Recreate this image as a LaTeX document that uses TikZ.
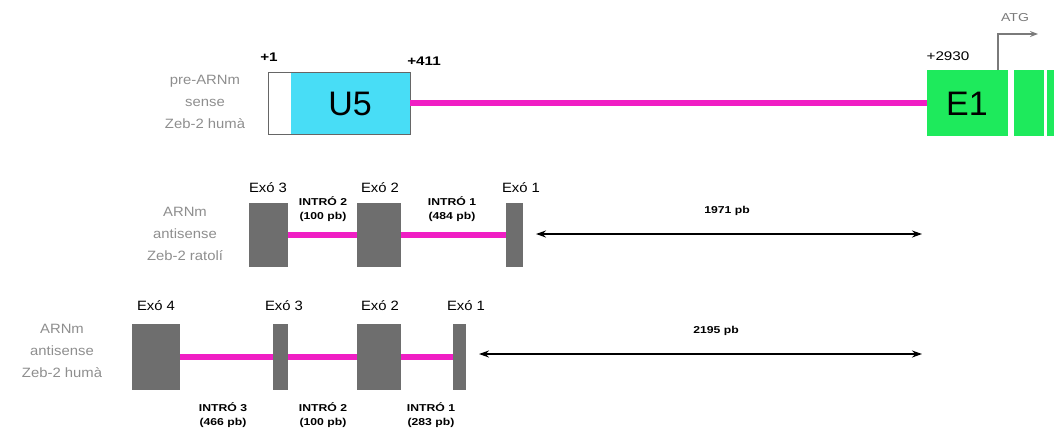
\documentclass[tikz,border=0pt]{standalone}
\usepackage{fontspec}
\setmainfont{Liberation Sans}
\newfontfamily\widesf[FakeStretch=1.22]{Liberation Sans}
\newfontfamily\midsf[FakeStretch=1.1]{Liberation Sans}
\usetikzlibrary{arrows.meta}
\definecolor{cyanbox}{HTML}{48DDF6}
\definecolor{magline}{HTML}{F01EC4}
\definecolor{greenbox}{HTML}{1EEA5C}
\definecolor{exgray}{HTML}{6E6E6E}
\definecolor{lblgray}{HTML}{8E8E8E}
\definecolor{atggray}{HTML}{7A7A7A}
\begin{document}
\begin{tikzpicture}[x=1pt,y=-1pt,
  box/.style={anchor=north west,inner sep=0pt,outer sep=0pt},
  exon/.style={box,fill=exgray},
  intron/.style={magline,line width=6pt},
  rowlbl/.style={text=lblgray,font=\midsf\fontsize{13.5}{22}\selectfont,align=center},
  exlbl/.style={font=\midsf\fontsize{13.5}{15}\selectfont},
  intlbl/.style={font=\widesf\bfseries\fontsize{10}{14}\selectfont,align=center},
  pblbl/.style={font=\widesf\bfseries\fontsize{10}{12}\selectfont},
  poslbl/.style={font=\widesf\bfseries\fontsize{12.5}{14}\selectfont},
  bigl/.style={font=\fontsize{34}{36}\selectfont},
  dim/.style={line width=1.8pt,{Stealth[length=10pt,width=7pt]}-{Stealth[length=10pt,width=7pt]}}
]
\useasboundingbox (0,0) rectangle (1054,431);

% ---- row 1: pre-ARNm sense
\node[rowlbl] (lbl1) at (205,102) {pre-ARNm\\sense\\Zeb-2 humà};
\node[box,fill=white,minimum width=142pt,minimum height=62pt] (u5box) at (268,72) {};
\node[box,fill=cyanbox,minimum width=119pt,minimum height=62pt] (u5) at (291,72) {};
\node[bigl] (u5t) at (350,104) {U5};
\draw[black!60,line width=0.7pt] (u5box.north west) rectangle (u5box.south east);
\node[box,fill=greenbox,minimum width=81pt,minimum height=66pt] (e1) at (927,70) {};
\node[bigl] (e1t) at (967,104) {E1};
\node[box,fill=greenbox,minimum width=30pt,minimum height=66pt] (e2) at (1014,70) {};
\node[box,fill=greenbox,minimum width=10pt,minimum height=66pt] (e3) at (1047,70) {};
\draw[intron] (u5box.east) -- (e1.west);
\node[poslbl] (p1) at (269,57) {+1};
\node[poslbl] (p411) at (424,61) {+411};
\node[font=\widesf\fontsize{12.5}{14}\selectfont] (p2930) at (948,56) {+2930};
\coordinate (atg0) at (998,70);
\coordinate (atg1) at (1038,34);
\draw[atggray,line width=1.5pt,-{Stealth[length=8pt,width=6pt]}] (atg0) |- (atg1);
\node[text=atggray,font=\widesf\fontsize{11.5}{13}\selectfont] (atg) at (1015,18) {ATG};

% ---- row 2: rat antisense
\node[rowlbl] (lbl2) at (185,234) {ARNm\\antisense\\Zeb-2 ratolí};
\node[exon,minimum width=39pt,minimum height=64pt] (r3) at (249,203) {};
\node[exon,minimum width=44pt,minimum height=64pt] (r2) at (357,203) {};
\node[exon,minimum width=17pt,minimum height=64pt] (r1) at (506,203) {};
\draw[intron] (r3.east) -- (r2.west);
\draw[intron] (r2.east) -- (r1.west);
\node[exlbl] (r3l) at (268,188) {Exó 3};
\node[exlbl] (r2l) at (380,188) {Exó 2};
\node[exlbl] (r1l) at (521,188) {Exó 1};
\node[intlbl] (ri2) at (323,209) {INTRÓ 2\\(100 pb)};
\node[intlbl] (ri1) at (452,209) {INTRÓ 1\\(484 pb)};
\coordinate (ra0) at (536,234);
\coordinate (ra1) at (922,234);
\draw[dim] (ra0) -- (ra1);
\node[pblbl] (rpb) at (727,211) {1971 pb};

% ---- row 3: human antisense
\node[rowlbl] (lbl3) at (62,351) {ARNm\\antisense\\Zeb-2 humà};
\node[exon,minimum width=48pt,minimum height=66pt] (h4) at (132,324) {};
\node[exon,minimum width=15pt,minimum height=66pt] (h3) at (273,324) {};
\node[exon,minimum width=44pt,minimum height=66pt] (h2) at (357,324) {};
\node[exon,minimum width=13pt,minimum height=66pt] (h1) at (453,324) {};
\draw[intron] (h4.east) -- (h3.west);
\draw[intron] (h3.east) -- (h2.west);
\draw[intron] (h2.east) -- (h1.west);
\node[exlbl] (h4l) at (156,306) {Exó 4};
\node[exlbl] (h3l) at (284,306) {Exó 3};
\node[exlbl] (h2l) at (380,306) {Exó 2};
\node[exlbl] (h1l) at (466,306) {Exó 1};
\node[intlbl] (hi3) at (223,415) {INTRÓ 3\\(466 pb)};
\node[intlbl] (hi2) at (323,415) {INTRÓ 2\\(100 pb)};
\node[intlbl] (hi1) at (431,415) {INTRÓ 1\\(283 pb)};
\coordinate (ha0) at (479,354);
\coordinate (ha1) at (922,354);
\draw[dim] (ha0) -- (ha1);
\node[pblbl] (hpb) at (716,331) {2195 pb};
\end{tikzpicture}
\end{document}
